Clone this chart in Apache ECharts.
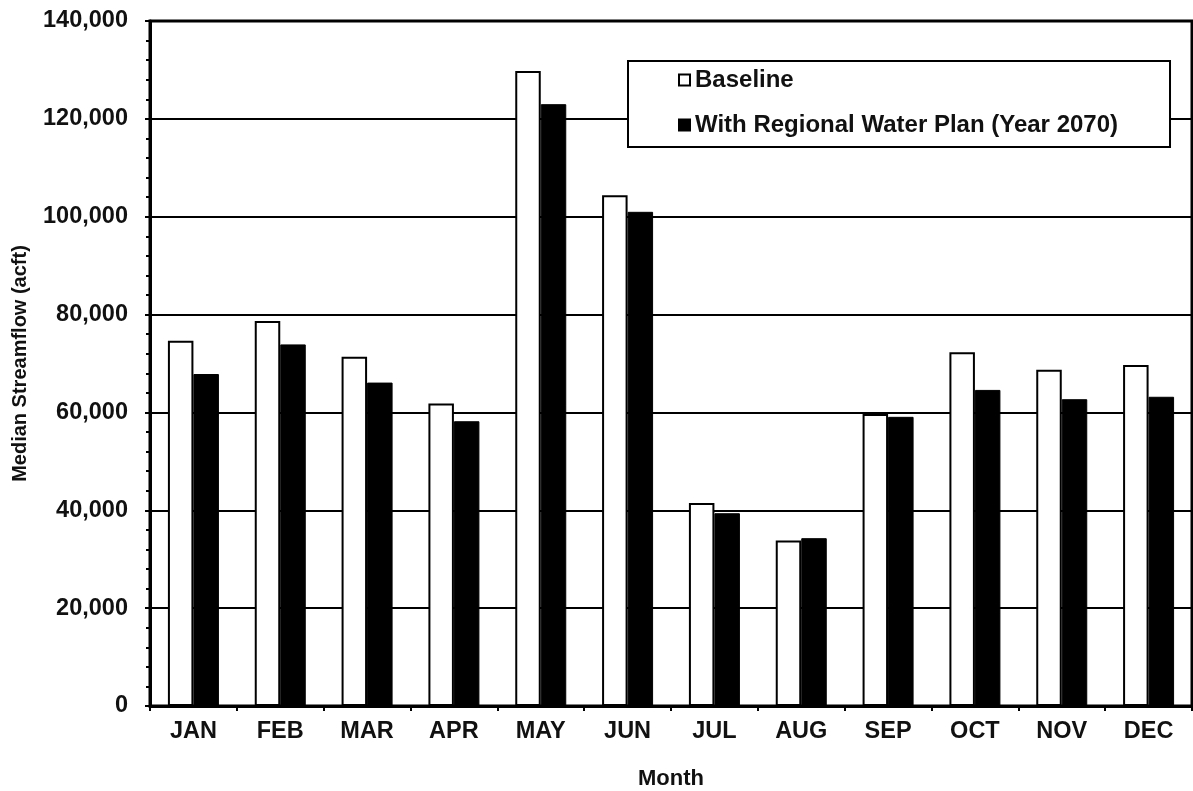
<!DOCTYPE html>
<html>
<head>
<meta charset="utf-8">
<script src="https://cdn.jsdelivr.net/npm/echarts@6/dist/echarts.min.js"></script>
<style>
html,body{margin:0;padding:0;background:#fff;}
#chart{width:1193px;height:791px;}
</style>
</head>
<body>
<div id="chart"></div>
<script>
const months = ['JAN','FEB','MAR','APR','MAY','JUN','JUL','AUG','SEP','OCT','NOV','DEC'];
const baseline = [74650, 78700, 71400, 61800, 129800, 104400, 41500, 33800, 59700, 72300, 68700, 69700];
const withPlan = [67850, 73900, 66100, 58200, 123000, 101000, 39400, 34300, 59100, 64600, 62700, 63200];
const seriesNames = ['Baseline', 'With Regional Water Plan (Year 2070)'];
const yMin = 0, yMax = 140000, yStep = 20000;

const FONT = '"Liberation Sans", Arial, sans-serif';
const chart = echarts.init(document.getElementById('chart'));
chart.setOption({
  animation: false,
  backgroundColor: '#fff',
  textStyle: { fontFamily: FONT },
  grid: {
    left: 150, right: 1, top: 21, bottom: 85,
    outerBoundsMode: 'none',
    containLabel: false,
    show: true, borderColor: '#000', borderWidth: 3, backgroundColor: 'transparent'
  },
  legend: {
    orient: 'vertical',
    left: 628, top: 61,
    padding: [7, 52, 10, 50],
    itemGap: 21,
    itemWidth: 11, itemHeight: 11,
    backgroundColor: '#fff',
    borderColor: '#000', borderWidth: 2,
    borderRadius: 0,
    textStyle: { fontFamily: FONT, fontWeight: 'bold', fontSize: 24, color: '#111' },
    data: seriesNames.map(n => ({ name: n, icon: 'rect' }))
  },
  xAxis: {
    type: 'category',
    data: months,
    name: 'Month',
    nameLocation: 'middle',
    nameGap: 62,
    nameTextStyle: { fontFamily: FONT, fontWeight: 'bold', fontSize: 22, color: '#111' },
    axisLine: { lineStyle: { color: '#000', width: 3 } },
    axisTick: { show: true, length: 5, lineStyle: { color: '#000', width: 2 } },
    axisLabel: { fontFamily: FONT, fontWeight: 'bold', fontSize: 23.5, color: '#111', margin: 14 },
    splitLine: { show: false }
  },
  yAxis: {
    type: 'value',
    min: yMin, max: yMax, interval: yStep,
    name: 'Median Streamflow (acft)',
    nameLocation: 'middle',
    nameRotate: 90,
    nameGap: 120,
    nameTextStyle: { fontFamily: FONT, fontWeight: 'bold', fontSize: 20, color: '#111' },
    axisLine: { show: true, lineStyle: { color: '#000', width: 3 } },
    axisTick: { show: true, length: 5, lineStyle: { color: '#000', width: 2 } },
    minorTick: { show: true, splitNumber: 5, length: 4, lineStyle: { color: '#000', width: 2 } },
    axisLabel: {
      fontFamily: FONT, fontWeight: 'bold', fontSize: 23.5, color: '#111', margin: 22,
      formatter: v => v.toLocaleString('en-US')
    },
    splitLine: { show: true, lineStyle: { color: '#000', width: 2 } }
  },
  series: [
    {
      name: seriesNames[0], type: 'bar', data: baseline,
      barWidth: 25.5, barGap: '0%',
      itemStyle: { color: '#fff', borderColor: '#000', borderWidth: 2 }
    },
    {
      name: seriesNames[1], type: 'bar', data: withPlan,
      barWidth: 25.5, barGap: '0%',
      itemStyle: { color: '#000', borderColor: '#000', borderWidth: 1 }
    }
  ]
});
</script>
</body>
</html>
